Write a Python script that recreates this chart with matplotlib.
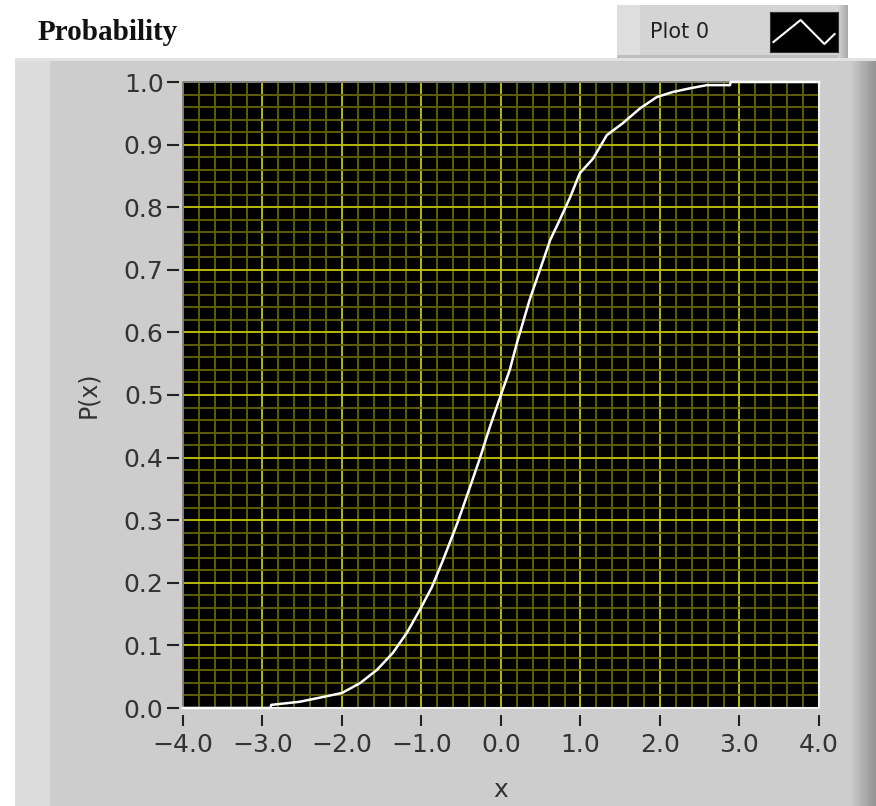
import numpy as np
import matplotlib.pyplot as plt
from matplotlib.patches import Rectangle
from matplotlib.lines import Line2D

# cumulative probability curve P(x)
x_vals = [-4.0, -2.9, -2.89, -2.53, -2.30, -2.0, -1.77, -1.56, -1.36, -1.18,
          -1.02, -0.87, -0.73, -0.55, -0.39, -0.26, -0.14, -0.01, 0.11, 0.20,
          0.36, 0.49, 0.62, 0.74, 0.87, 0.99, 1.16, 1.33, 1.53, 1.75,
          1.96, 2.16, 2.38, 2.59, 2.88, 2.89, 4.0]
p_vals = [0.0, 0.0, 0.005, 0.010, 0.016, 0.024, 0.040, 0.061, 0.088, 0.121,
          0.157, 0.193, 0.236, 0.295, 0.353, 0.401, 0.449, 0.497, 0.540, 0.583,
          0.652, 0.700, 0.748, 0.780, 0.816, 0.854, 0.878, 0.915, 0.934, 0.958,
          0.976, 0.984, 0.990, 0.995, 0.995, 1.0, 1.0]

x_ticks = [-4.0, -3.0, -2.0, -1.0, 0.0, 1.0, 2.0, 3.0, 4.0]
x_ticklabels = ['\u22124.0', '\u22123.0', '\u22122.0', '\u22121.0', '0.0', '1.0', '2.0', '3.0', '4.0']
y_ticks = [0.0, 0.1, 0.2, 0.3, 0.4, 0.5, 0.6, 0.7, 0.8, 0.9, 1.0]
y_ticklabels = ['%.1f' % v for v in y_ticks]

W, H = 876, 806
fig = plt.figure(figsize=(W / 100, H / 100), dpi=100)
fig.patch.set_facecolor('white')


def box(x0, y0, x1, y1, color):
    # rectangle given in pixel coords (origin top-left), kept behind the axes
    r = Rectangle((x0 / W, 1 - y1 / H), (x1 - x0) / W, (y1 - y0) / H,
                  transform=fig.transFigure, facecolor=color, edgecolor='none', zorder=-10)
    fig.patches.append(r)


# grey panel with shaded right edge
box(15, 58, 876, 806, '#cdcdcd')
box(15, 58, 50, 806, '#dcdcdc')
for i, s in enumerate(np.linspace(0, 1, 26)):
    g = 0.80 - 0.22 * s
    box(850 + i, 58, 851 + i, 806, (g, g, g))
box(15, 58, 876, 61, '#e2e2e2')

# legend frame
box(617, 5, 848, 58, '#d4d4d4')
box(617, 5, 640, 58, '#dedede')
box(617, 55, 848, 58, '#bdbdbd')
for i, s in enumerate(np.linspace(0, 1, 10)):
    g = 0.82 - 0.15 * s
    box(838 + i, 5, 839 + i, 58, (g, g, g))
fig.text(650 / W, 1 - 32 / H, 'Plot 0', fontsize=15, color='#222222',
         ha='left', va='center', family='DejaVu Sans')

# legend swatch
sw = fig.add_axes([770 / W, 1 - 52 / H, 68 / W, 40 / H])
sw.set_facecolor('black')
sw.plot([0.05, 0.45, 0.8, 0.95], [0.25, 0.8, 0.2, 0.45], color='white', lw=1.5)
sw.set_xlim(0, 1)
sw.set_ylim(0, 1)
sw.set_xticks([])
sw.set_yticks([])
for s in sw.spines.values():
    s.set_color('#333333')

# title
fig.text(38 / W, 1 - 32 / H, 'Probability', fontsize=21, fontweight='bold',
         family='Liberation Serif', color='#111111', ha='left', va='center')

# main plot area
ax = fig.add_axes([183 / W, 1 - 708 / H, 636 / W, 626 / H])
ax.set_facecolor('black')
ax.plot(x_vals, p_vals, color='white', lw=1.8, zorder=7, clip_on=False)
ax.set_xlim(-4, 4)
ax.set_ylim(0, 1)

ax.set_xticks(x_ticks)
ax.set_xticklabels(x_ticklabels)
ax.set_yticks(y_ticks)
ax.set_yticklabels(y_ticklabels)
ax.set_xticks(np.arange(-4, 4.01, 0.2), minor=True)
ax.set_yticks(np.arange(0, 1.001, 0.02), minor=True)

ax.grid(True, which='minor', color='#5e5e00', lw=1.4, zorder=1)
ax.grid(True, which='major', color='#b8b800', lw=1.4, zorder=2)
ax.set_axisbelow(True)

ax.tick_params(which='minor', length=0)
ax.tick_params(axis='y', which='major', direction='out', length=9, width=1.5,
               color='#222222', labelsize=18, labelcolor='#333333', pad=2)
ax.tick_params(axis='x', which='major', direction='out', length=8, width=1.5,
               color='#222222', labelsize=18, labelcolor='#333333', pad=5)

ax.spines['left'].set_position(('outward', 3))
ax.spines['bottom'].set_position(('outward', 5))
for s in ax.spines.values():
    s.set_visible(False)

# inset border around plot area
ax.add_line(Line2D([0, 0, 1], [0, 1, 1], transform=ax.transAxes, color='#777777',
                   lw=1.2, clip_on=False, zorder=6))
ax.add_line(Line2D([0, 1, 1], [0, 0, 1], transform=ax.transAxes, color='#f2f2f2',
                   lw=1.5, clip_on=False, zorder=6))

ax.set_xlabel('x', fontsize=18, color='#333333')
ax.set_ylabel('P(x)', fontsize=17, color='#333333')
ax.xaxis.set_label_coords(0.5, -0.112)
ax.yaxis.set_label_coords(-0.130, 0.5)

fig.savefig('out.png', dpi=100)
